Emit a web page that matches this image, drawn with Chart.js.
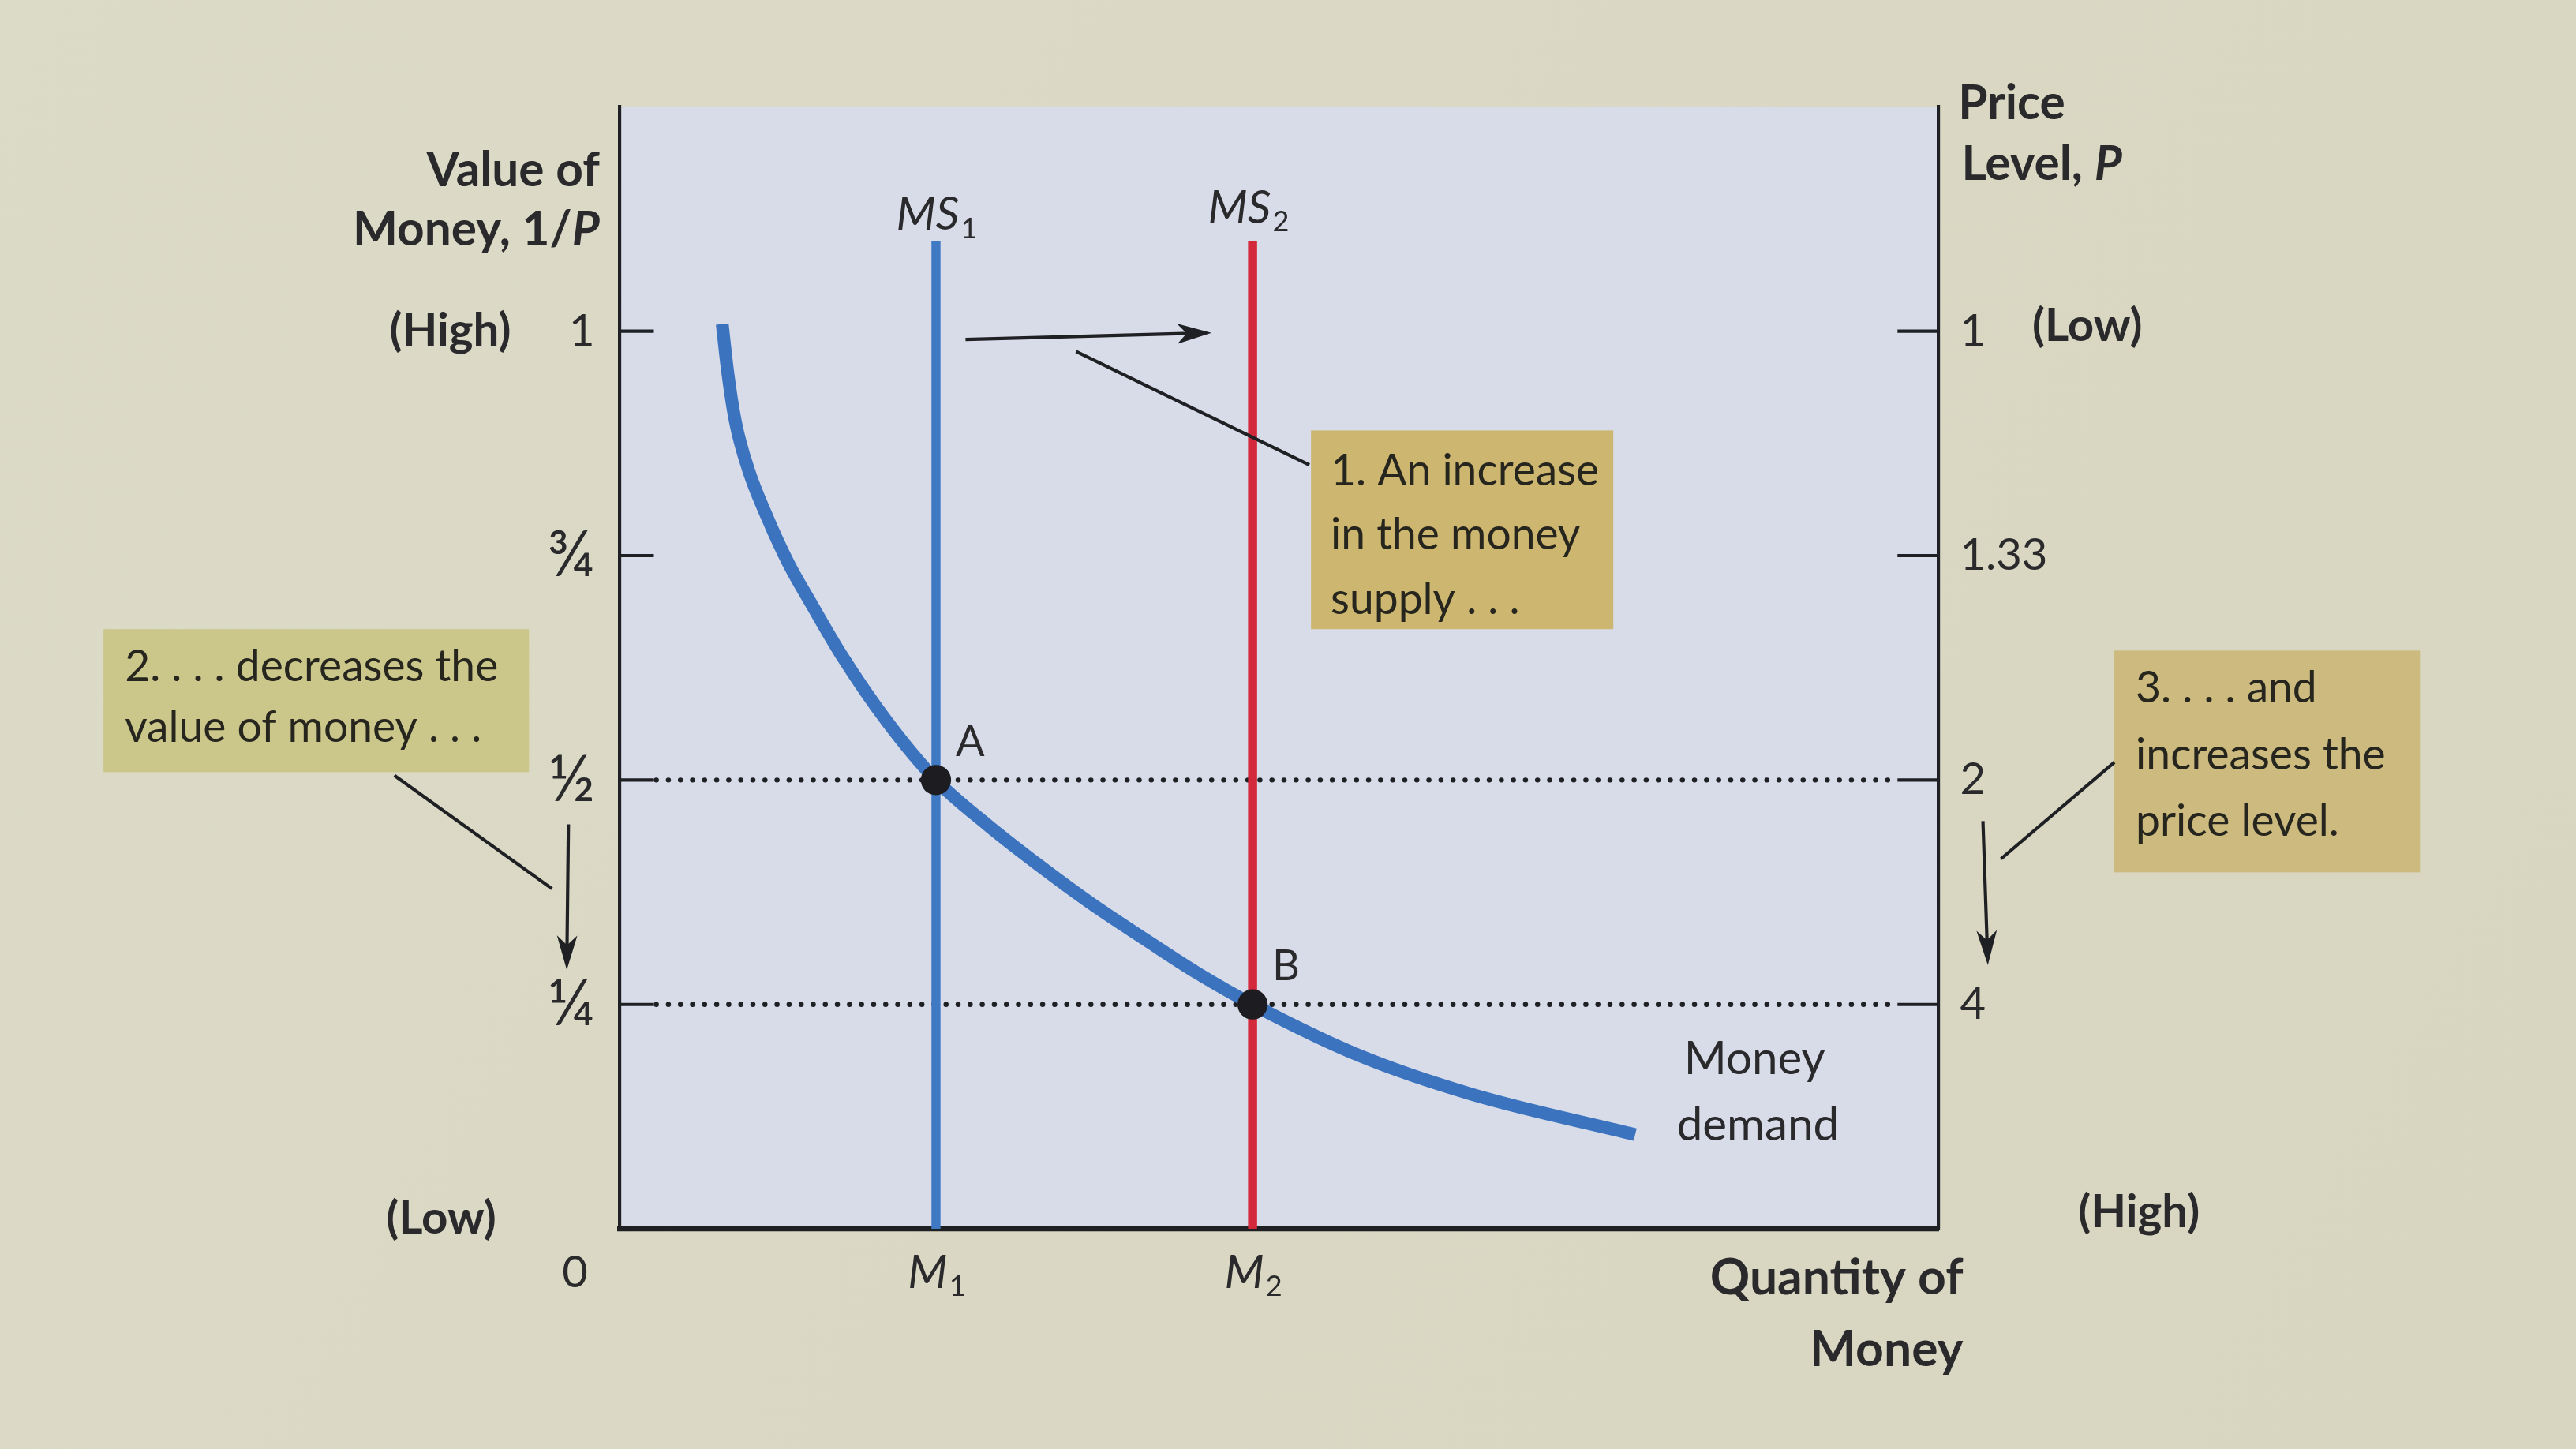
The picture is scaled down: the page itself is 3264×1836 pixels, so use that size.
<!DOCTYPE html>
<html>
<head>
<meta charset="utf-8">
<title>Money supply and the value of money</title>
<script src="https://cdn.jsdelivr.net/npm/chart.js@4.4.1/dist/chart.umd.min.js"></script>
<style>
  html, body { margin: 0; padding: 0; background: #dad8c3; overflow: hidden; }
  canvas { display: block; }
</style>
</head>
<body>
<canvas id="moneyChart" width="3264" height="1836"></canvas>
<script>
// values: quantity axis runs 0..10, value of money 0..1.25
const demandQty   = [0.78, 0.82, 0.88, 0.98, 1.12, 1.28, 1.46, 1.68, 2.03, 2.40, 2.79, 3.19, 3.59, 3.99, 4.38, 4.80, 5.61, 6.46, 7.70];
const demandValue = [1.008, 0.956, 0.899, 0.845, 0.793, 0.742, 0.695, 0.640, 0.565, 0.50, 0.450, 0.404, 0.361, 0.322, 0.285, 0.25, 0.193, 0.150, 0.105];
const supplyQty = [2.4, 4.8];          // M1, M2
const supplyTop = 1.1;                 // where the MS lines stop
const eqValue = [0.5, 0.25];           // points A and B
const eqNames = ['A', 'B'];
const guideQty = [0.28, 9.68];         // dotted lines run between the inner ticks
const valueTicks = [1, 0.75, 0.5, 0.25];
const valueTickLabels = ['1', '¾', '½', '¼'];
const priceTickLabels = ['1', '1.33', '2', '4'];

const S = 3264 / 1568;                 // layout was measured on a 1568 wide copy
const FONT = 'Lato, "Open Sans", sans-serif';
const ink = '#1f2024';
const textInk = '#2a2a2c';

function setFont(ctx, size, weight, style) {
    ctx.font = `${style || 'normal'} ${weight || 400} ${size * S}px ${FONT}`;
}

function txt(ctx, s, x, y, size, opt) {
    opt = opt || {};
    setFont(ctx, size, opt.weight, opt.style);
    ctx.fillStyle = opt.color || textInk;
    ctx.textAlign = opt.align || 'left';
    ctx.textBaseline = 'middle';
    ctx.fillText(s, x, y);
}

// text made of runs, e.g. "Money, 1/" + italic "P"
function runs(ctx, parts, x, y, size, align) {
    let total = 0;
    parts.forEach(p => { setFont(ctx, size, p.weight, p.style); total += ctx.measureText(p.t).width; });
    let cx = align === 'right' ? x - total : align === 'center' ? x - total / 2 : x;
    parts.forEach(p => {
        txt(ctx, p.t, cx, y, size, { weight: p.weight, style: p.style });
        setFont(ctx, size, p.weight, p.style);
        cx += ctx.measureText(p.t).width;
    });
}

// italic symbol with a small upright subscript, centred on x
function subLabel(ctx, base, sub, x, y, size) {
    setFont(ctx, size, 400, 'italic');
    const wb = ctx.measureText(base).width;
    setFont(ctx, size * 0.62, 400);
    const ws = ctx.measureText(sub).width;
    const left = x - (wb + ws) / 2;
    txt(ctx, base, left, y, size, { style: 'italic' });
    txt(ctx, sub, left + wb + 1 * S, y + size * 0.3 * S, size * 0.62);
}

function line(ctx, x1, y1, x2, y2, w) {
    ctx.lineWidth = w;
    ctx.beginPath();
    ctx.moveTo(x1, y1);
    ctx.lineTo(x2, y2);
    ctx.stroke();
}

function arrow(ctx, x1, y1, x2, y2) {
    const ang = Math.atan2(y2 - y1, x2 - x1);
    const len = 21 * S, half = 6.2 * S;
    const bx = x2 - Math.cos(ang) * len, by = y2 - Math.sin(ang) * len;
    const nx = -Math.sin(ang), ny = Math.cos(ang);
    line(ctx, x1, y1, x2 - Math.cos(ang) * len * 0.6, y2 - Math.sin(ang) * len * 0.6, 2 * S);
    ctx.beginPath();
    ctx.moveTo(x2, y2);
    ctx.lineTo(bx + nx * half, by + ny * half);
    ctx.lineTo(x2 - Math.cos(ang) * len * 0.72, y2 - Math.sin(ang) * len * 0.72);
    ctx.lineTo(bx - nx * half, by - ny * half);
    ctx.closePath();
    ctx.fill();
}

function noteBox(ctx, x, y, w, h, color, lines, tx, ys) {
    ctx.fillStyle = color;
    ctx.fillRect(x * S, y * S, w * S, h * S);
    lines.forEach((l, i) => txt(ctx, l, tx * S, ys[i] * S, 26.5, { color: '#26261f' }));
}

const figurePlugin = {
    id: 'figure',
    beforeDraw(chart) {
        const { ctx, chartArea: a } = chart;
        ctx.save();
        const bg = ctx.createLinearGradient(0, 0, chart.width, chart.height);
        bg.addColorStop(0, '#dcdbc7');
        bg.addColorStop(1, '#d8d5c0');
        ctx.fillStyle = bg;
        ctx.fillRect(0, 0, chart.width, chart.height);
        ctx.fillStyle = '#d8dce9';
        ctx.fillRect(a.left, a.top, a.right - a.left, a.bottom - a.top);
        ctx.restore();
    },
    afterDraw(chart) {
        const { ctx, chartArea: a } = chart;
        const xs = chart.scales.x, ys = chart.scales.y, ys2 = chart.scales.y2;
        ctx.save();
        ctx.strokeStyle = ink;
        ctx.fillStyle = ink;

        // tick marks point into the plot on both sides
        ys.ticks.forEach(t => {
            const py = ys.getPixelForValue(t.value);
            line(ctx, a.left, py, a.left + 21 * S, py, 2 * S);
        });
        ys2.ticks.forEach(t => {
            const py = ys2.getPixelForValue(t.value);
            line(ctx, a.right - 25 * S, py, a.right, py, 2 * S);
        });

        // axis titles
        txt(ctx, 'Value of', 365 * S, 104 * S, 29, { weight: 700, align: 'right' });
        runs(ctx, [{ t: 'Money, 1/', weight: 700 }, { t: 'P', weight: 700, style: 'italic' }], 365 * S, 140 * S, 29, 'right');
        txt(ctx, 'Price', 1192 * S, 63 * S, 29, { weight: 700 });
        runs(ctx, [{ t: 'Level, ', weight: 700 }, { t: 'P', weight: 700, style: 'italic' }], 1194 * S, 100 * S, 29, 'left');
        txt(ctx, 'Quantity of', 1195 * S, 778 * S, 30, { weight: 700, align: 'right' });
        txt(ctx, 'Money', 1195 * S, 822 * S, 30, { weight: 700, align: 'right' });

        txt(ctx, '(High)', 311 * S, ys.getPixelForValue(1), 28, { weight: 700, align: 'right' });
        txt(ctx, '(Low)', 302 * S, a.bottom - 6 * S, 28, { weight: 700, align: 'right' });
        txt(ctx, '(Low)', 1237 * S, ys2.getPixelForValue(1) - 3 * S, 28, { weight: 700 });
        txt(ctx, '(High)', 1265 * S, a.bottom - 10 * S, 28, { weight: 700 });
        txt(ctx, '0', 350 * S, 775 * S, 27, { align: 'center' });

        // M1, M2 under the axis and MS1, MS2 over the supply lines
        const topPx = ys.getPixelForValue(supplyTop);
        supplyQty.forEach((q, i) => {
            const px = xs.getPixelForValue(q);
            subLabel(ctx, 'M', String(i + 1), px, 775 * S, 28);
            subLabel(ctx, 'MS', String(i + 1), px - 3 * S * i, topPx - 16 * S - 4 * S * i, 28);
        });

        // point names
        supplyQty.forEach((q, i) => {
            txt(ctx, eqNames[i], xs.getPixelForValue(q) + 12 * S, ys.getPixelForValue(eqValue[i]) - 23 * S, 26);
        });

        txt(ctx, 'Money', 1068 * S, 645 * S, 28, { align: 'center' });
        txt(ctx, 'demand', 1070 * S, 685 * S, 28, { align: 'center' });

        // callouts
        noteBox(ctx, 798, 262, 184, 121, '#cdb66f', ['1. An increase', 'in the money', 'supply . . .'], 810, [287, 326, 365]);
        noteBox(ctx, 63, 383, 259, 87, '#cbc68a', ['2. . . . decreases the', 'value of money . . .'], 76, [406, 443]);
        noteBox(ctx, 1287, 396, 186, 135, '#ccba7e', ['3. . . . and', 'increases the', 'price level.'], 1300, [419, 460, 500]);

        ctx.strokeStyle = ink;
        ctx.fillStyle = ink;
        line(ctx, 797 * S, 283 * S, 655 * S, 214 * S, 2 * S);
        line(ctx, 240 * S, 472 * S, 336 * S, 541 * S, 2 * S);

        const m1 = xs.getPixelForValue(supplyQty[0]), m2 = xs.getPixelForValue(supplyQty[1]);
        const yTop = ys.getPixelForValue(1);
        arrow(ctx, m1 + 18 * S, yTop + 5 * S, m2 - 25 * S, yTop + 1 * S);

        arrow(ctx, 346 * S, ys.getPixelForValue(eqValue[0]) + 27 * S, 345 * S, ys.getPixelForValue(eqValue[1]) - 21 * S);

        const r0 = ys2.getPixelForValue(eqValue[0]) + 25 * S, r1 = ys2.getPixelForValue(eqValue[1]) - 24 * S;
        arrow(ctx, 1207 * S, r0, 1210 * S, r1);
        line(ctx, 1287 * S, 464 * S, 1218 * S, r0 + 23 * S, 2 * S);

        ctx.restore();
    }
};

const guideStyle = {
    showLine: true,
    borderColor: ink,
    borderWidth: 3.1 * S,
    borderDash: [0.1, 7.3 * S],
    borderCapStyle: 'round',
    pointRadius: 0,
    order: 3
};

const lineStyle = { showLine: true, pointRadius: 0, borderCapStyle: 'butt', order: 2 };

// the fraction glyphs are small in Lato, so they get a bigger size
const tickFont = c => {
    const big = c.tick && c.tick.label && /[¼½¾]/.test(c.tick.label);
    return { family: FONT, size: (big ? 39 : 27) * S };
};

new Chart(document.getElementById('moneyChart'), {
    type: 'scatter',
    data: {
        datasets: [
            {
                label: 'Equilibrium',
                data: supplyQty.map((q, i) => ({ x: q, y: eqValue[i] })),
                pointRadius: 9.2 * S,
                pointBackgroundColor: '#1c1c21',
                pointBorderWidth: 0,
                order: 0
            },
            Object.assign({}, lineStyle, {
                label: 'Money demand',
                data: demandQty.map((q, i) => ({ x: q, y: demandValue[i] })),
                borderColor: '#3b73be',
                borderWidth: 7.8 * S,
                cubicInterpolationMode: 'monotone',
                order: 1
            }),
            Object.assign({}, lineStyle, {
                label: 'MS1',
                data: [{ x: supplyQty[0], y: 0 }, { x: supplyQty[0], y: supplyTop }],
                borderColor: '#3f79c3',
                borderWidth: 5.5 * S
            }),
            Object.assign({}, lineStyle, {
                label: 'MS2',
                data: [{ x: supplyQty[1], y: 0 }, { x: supplyQty[1], y: supplyTop }],
                borderColor: '#d3293a',
                borderWidth: 5.5 * S
            }),
            Object.assign({}, guideStyle, {
                label: 'guide A',
                data: guideQty.map(q => ({ x: q, y: eqValue[0] }))
            }),
            Object.assign({}, guideStyle, {
                label: 'guide B',
                data: guideQty.map(q => ({ x: q, y: eqValue[1] }))
            })
        ]
    },
    options: {
        responsive: false,
        devicePixelRatio: 1,
        animation: false,
        events: [],
        layout: { padding: { top: 65 * S, left: 0, right: 0, bottom: 0 } },
        plugins: { legend: { display: false }, tooltip: { enabled: false } },
        scales: {
            x: {
                type: 'linear', min: 0, max: 10,
                grid: { display: false, drawTicks: false },
                ticks: { display: false },
                border: { display: true, color: ink, width: 3 * S },
                afterFit: s => { s.height = 1836 - 748 * S; }
            },
            y: {
                position: 'left', min: 0, max: 1.25,
                afterBuildTicks: s => { s.ticks = valueTicks.map(v => ({ value: v })); },
                ticks: { callback: (v, i) => valueTickLabels[i], font: tickFont, color: textInk, padding: 15 * S },
                grid: { display: false, drawTicks: false },
                border: { display: true, color: ink, width: 2 * S },
                afterFit: s => { s.width = 377 * S; }
            },
            y2: {
                position: 'right', min: 0, max: 1.25,
                afterBuildTicks: s => { s.ticks = valueTicks.map(v => ({ value: v })); },
                ticks: { callback: (v, i) => priceTickLabels[i], font: { family: FONT, size: 27 * S }, color: textInk, padding: 13 * S },
                grid: { display: false, drawTicks: false },
                border: { display: true, color: ink, width: 2 * S },
                afterFit: s => { s.width = 3264 - 1180 * S; }
            }
        }
    },
    plugins: [figurePlugin]
});
</script>
</body>
</html>
